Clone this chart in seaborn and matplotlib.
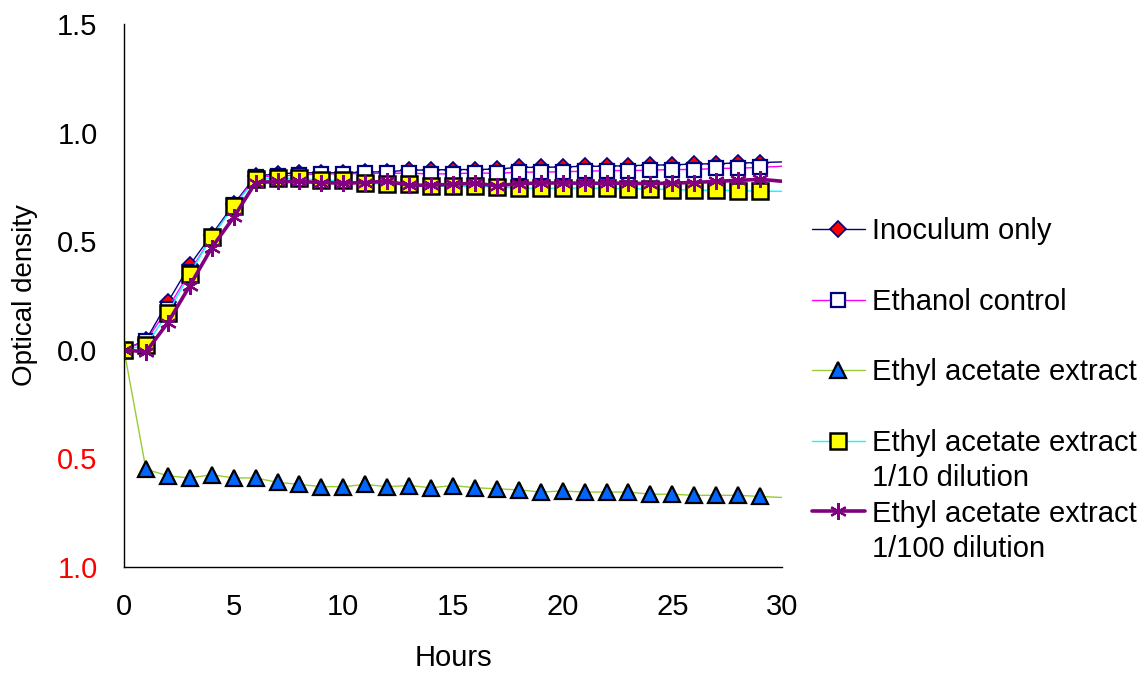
import matplotlib
matplotlib.use("Agg")
import matplotlib.pyplot as plt
from matplotlib.lines import Line2D
from matplotlib.ticker import FuncFormatter
import numpy as np
import seaborn as sns

sns.set_style("white")
plt.rcParams['font.family'] = ['Liberation Sans', 'DejaVu Sans']
plt.rcParams['text.color'] = 'black'
plt.rcParams['axes.labelcolor'] = 'black'
plt.rcParams['xtick.color'] = 'black'
plt.rcParams['ytick.color'] = 'black'

# hours 0..30 (markers drawn for 0..29, line runs to the axis edge)
hours = list(range(31))

inoculum = [0, 0.045, 0.22, 0.39, 0.53, 0.67, 0.80, 0.81, 0.815, 0.815, 0.815,
            0.818, 0.82, 0.827, 0.828, 0.83, 0.83, 0.832, 0.84, 0.84, 0.842,
            0.845, 0.845, 0.848, 0.85, 0.852, 0.855, 0.857, 0.86, 0.862, 0.865]
ethanol = [0, 0.04, 0.19, 0.36, 0.52, 0.665, 0.795, 0.80, 0.805, 0.81, 0.81,
           0.812, 0.813, 0.813, 0.81, 0.81, 0.815, 0.812, 0.818, 0.818, 0.82,
           0.822, 0.825, 0.825, 0.827, 0.83, 0.83, 0.835, 0.836, 0.84, 0.845]
ethyl = [0, -0.55, -0.58, -0.59, -0.575, -0.59, -0.59, -0.61, -0.62, -0.63, -0.63,
         -0.62, -0.63, -0.625, -0.635, -0.625, -0.635, -0.64, -0.645, -0.655, -0.65,
         -0.655, -0.655, -0.655, -0.665, -0.665, -0.67, -0.67, -0.67, -0.675, -0.68]
dil10 = [0, 0.02, 0.17, 0.35, 0.52, 0.66, 0.785, 0.79, 0.79, 0.78, 0.78,
         0.767, 0.763, 0.762, 0.753, 0.753, 0.753, 0.749, 0.744, 0.744, 0.744,
         0.745, 0.743, 0.742, 0.74, 0.738, 0.735, 0.735, 0.733, 0.73, 0.73]
dil100 = [0, -0.01, 0.125, 0.295, 0.47, 0.61, 0.77, 0.775, 0.775, 0.77, 0.767,
          0.77, 0.776, 0.758, 0.758, 0.762, 0.767, 0.755, 0.765, 0.768, 0.768,
          0.767, 0.767, 0.767, 0.765, 0.768, 0.77, 0.776, 0.78, 0.785, 0.776]

labels = ["Inoculum only", "Ethanol control", "Ethyl acetate extract",
          "Ethyl acetate extract", "Ethyl acetate extract"]
sublabels = [None, None, None, "1/10 dilution", "1/100 dilution"]

styles = [
    dict(color='#000080', lw=1.0, marker='D', markersize=8, markerfacecolor='#FF0000',
         markeredgecolor='#000080', markeredgewidth=1.2),
    dict(color='#FF00FF', lw=1.0, marker='s', markersize=10.5, markerfacecolor='white',
         markeredgecolor='#000080', markeredgewidth=1.6),
    dict(color='#99CC33', lw=1.0, marker='^', markersize=11, markerfacecolor='#0066FF',
         markeredgecolor='black', markeredgewidth=1.6),
    dict(color='#00FFFF', lw=1.0, marker='s', markersize=11, markerfacecolor='#FFFF00',
         markeredgecolor='black', markeredgewidth=1.8),
    dict(color='#800080', lw=2.6, marker=(6, 2, 0), markersize=12, markerfacecolor='#800080',
         markeredgecolor='#800080', markeredgewidth=1.6),
]

fig = plt.figure(figsize=(11.42, 6.73), dpi=100)
ax = fig.add_axes([124 / 1142, 1 - 567 / 673, (782 - 124) / 1142, (567 - 24) / 673])

handles = []
for vals, st in zip([inoculum, ethanol, ethyl, dil10, dil100], styles):
    sns.lineplot(x=hours, y=vals, ax=ax, markevery=slice(0, 30), clip_on=True, **st)
    handles.append(Line2D([], [], **st))

ax.set_xlim(0, 30)
ax.set_ylim(-1.0, 1.5)
ax.set_xticks(np.arange(0, 31, 5))
ax.set_yticks(np.arange(-1.0, 1.51, 0.5))
ax.yaxis.set_major_formatter(FuncFormatter(lambda v, p: f"{abs(v):.1f}"))
for lab, t in zip(ax.get_yticklabels(), ax.get_yticks()):
    if t < 0:
        lab.set_color('#FF0000')

for s in ['top', 'right']:
    ax.spines[s].set_visible(False)
for s in ['left', 'bottom']:
    ax.spines[s].set_color('black')
    ax.spines[s].set_linewidth(1.0)
ax.tick_params(axis='both', which='major', direction='out', length=9, width=1,
               color='#808080', labelsize=21)
ax.tick_params(axis='y', pad=10)
ax.tick_params(axis='x', pad=10)

ax.set_xlabel("Hours", fontsize=21, labelpad=16)
ax.set_ylabel("Optical density", fontsize=20, labelpad=14)

# legend rows: blank spacer rows and second lines without a handle
blank = Line2D([], [], color='none')
leg_h, leg_l = [], []
for i, (h, lab, sub) in enumerate(zip(handles, labels, sublabels)):
    leg_h.append(h)
    leg_l.append(lab)
    if sub is not None:
        leg_h.append(blank)
        leg_l.append(sub)
    elif i < len(handles) - 1:
        leg_h.append(blank)
        leg_l.append(" ")
ax.legend(leg_h, leg_l, loc='center left', bbox_to_anchor=(812 / 1142, 1 - 390 / 673),
          bbox_transform=fig.transFigure, frameon=False, fontsize=21,
          handlelength=1.8, handletextpad=0.25, labelspacing=0.25, borderpad=0,
          borderaxespad=0)

fig.savefig("out.png", dpi=100)
